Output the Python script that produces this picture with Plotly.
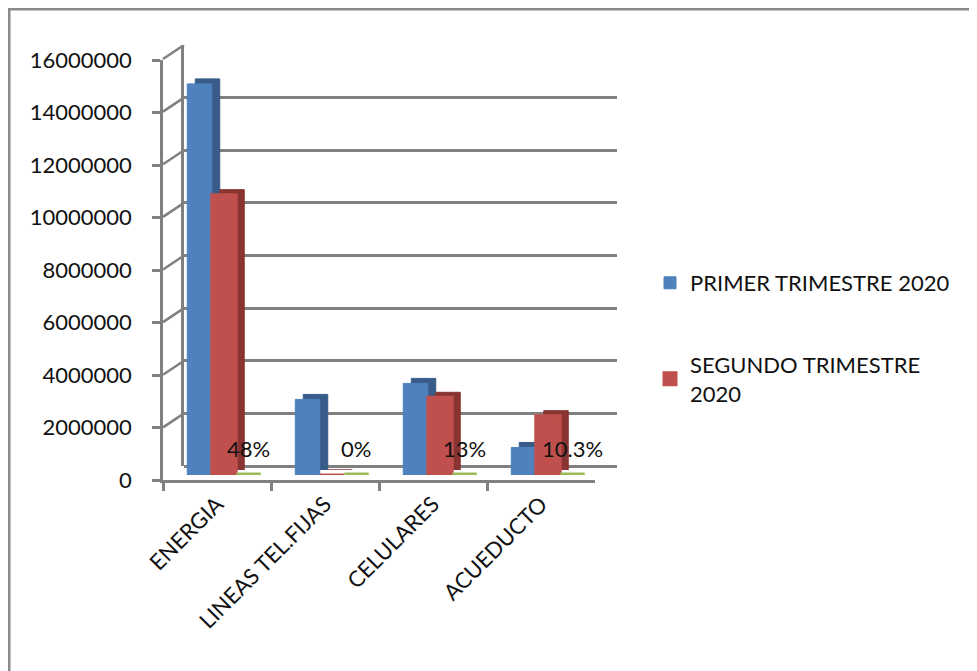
import plotly.graph_objects as go

categories = ["ENERGIA", "LINEAS TEL.FIJAS", "CELULARES", "ACUEDUCTO"]
primer_2020 = [14900000, 2880000, 3490000, 1050000]
segundo_2020 = [10680000, 0, 2960000, 2260000]
variacion = [0.48, 0.0, 0.13, 0.103]
variacion_labels = ["48%", "0%", "13%", "10.3%"]
y_ticks = [0, 2000000, 4000000, 6000000, 8000000, 10000000, 12000000, 14000000, 16000000]
series_names = ["PRIMER TRIMESTRE 2020", "SEGUNDO TRIMESTRE<br>2020"]

OFF = 8  # page body margin
W, H = 977 - OFF, 671 - OFF
FONT = "Lato"
BLUE, RED, GREEN = "#4F81BD", "#C0504D", "#9BBB59"
BLUE_D, RED_D, GREEN_D = "#375C8A", "#8A3432", "#76923C"
GRID = "#808080"
TXT = "#111111"
YMAX = 16000000


def dx(a, b):
    return [(a - OFF) / W, (b - OFF) / W]


def dy(bottom, top):
    return [1 - (bottom - OFF) / H, 1 - (top - OFF) / H]


fig = go.Figure()

# back wall (gridlines) subplot
fig.add_trace(go.Scatter(x=categories, y=[0] * 4, xaxis="x", yaxis="y", mode="markers",
                         marker=dict(opacity=0), showlegend=False, hoverinfo="skip"))
# shadow (depth) bars
for vals, col, lw in [(primer_2020, BLUE_D, 1), (segundo_2020, RED_D, 1), (variacion, GREEN_D, 0)]:
    fig.add_trace(go.Bar(x=categories, y=vals, xaxis="x2", yaxis="y2",
                         marker=dict(color=col, line=dict(color=col, width=lw)),
                         showlegend=False, hoverinfo="skip"))
# front bars
fig.add_trace(go.Bar(x=categories, y=primer_2020, name=series_names[0], xaxis="x3", yaxis="y3",
                     marker=dict(color=BLUE, line=dict(color=BLUE, width=1)), legendgroup="a"))
fig.add_trace(go.Bar(x=categories, y=segundo_2020, name=series_names[1], xaxis="x3", yaxis="y3",
                     marker=dict(color=RED, line=dict(color=RED, width=3)), legendgroup="b"))
fig.add_trace(go.Bar(x=categories, y=variacion, name="VARIACION", xaxis="x3", yaxis="y3",
                     marker=dict(color=GREEN, line=dict(color=GREEN, width=5)), showlegend=False))
# front axes subplot
fig.add_trace(go.Scatter(x=categories, y=[0] * 4, xaxis="x4", yaxis="y4", mode="markers",
                         marker=dict(opacity=0), showlegend=False, hoverinfo="skip"))

cat_range = [-0.5, 3.5]
hidden = dict(showgrid=False, zeroline=False, showticklabels=False, ticks="", showline=False)

fig.update_layout(
    width=W, height=H,
    margin=dict(l=0, r=0, t=0, b=0, autoexpand=False),
    paper_bgcolor="white", plot_bgcolor="rgba(0,0,0,0)",
    barmode="group", bargap=0.32, bargroupgap=0,
    font=dict(family=FONT, size=22, color=TXT),
    xaxis=dict(domain=dx(184, 617), range=cat_range, type="category", anchor="y", **hidden),
    yaxis=dict(domain=dy(466, 45), range=[0, YMAX], anchor="x", showgrid=True, gridcolor=GRID,
               gridwidth=2.5, zeroline=True, zerolinecolor=GRID, zerolinewidth=2.5,
               showticklabels=False, ticks="", tickvals=y_ticks,
               showline=True, linecolor=GRID, linewidth=2.5),
    xaxis2=dict(domain=dx(178, 610), range=cat_range, type="category", anchor="y2", **hidden),
    yaxis2=dict(domain=dy(470, 50), range=[0, YMAX], anchor="x2", **hidden),
    xaxis3=dict(domain=dx(170, 602), range=cat_range, type="category", anchor="y3", **hidden),
    yaxis3=dict(domain=dy(475, 55), range=[0, YMAX], anchor="x3", **hidden),
    xaxis4=dict(domain=dx(163, 595), range=cat_range, type="category", anchor="y4",
                showgrid=False, zeroline=False, showline=True, linecolor=GRID, linewidth=2.5,
                ticks="outside", ticklen=8, tickwidth=2.5, tickcolor=GRID, tickson="boundaries",
                tickangle=-45, tickfont=dict(family=FONT, size=22, color=TXT)),
    yaxis4=dict(domain=dy(480, 60), range=[0, YMAX], anchor="x4", showgrid=False, zeroline=False,
                showline=True, linecolor=GRID, linewidth=2.5, ticks="outside", ticklen=8,
                tickwidth=2.5, tickcolor=GRID, tickvals=y_ticks, tickformat="d",
                ticklabelstandoff=16, tickfont=dict(family=FONT, size=22, color=TXT)),
    legend=dict(x=(650 - OFF) / W, y=1 - (262 - OFF) / H, xanchor="left", yanchor="top",
                font=dict(family=FONT, size=22, color=TXT), tracegroupgap=50,
                bgcolor="rgba(0,0,0,0)"),
    showlegend=True,
)

# percentage labels above the flat third series
for cat, lab in zip(categories, variacion_labels):
    fig.add_annotation(x=cat, y=0, xref="x3", yref="y3", text=lab, showarrow=False,
                       xshift=24, yshift=27, font=dict(family=FONT, size=22, color=TXT))

shapes = []
# left wall diagonals from front ticks to back wall
for v in y_ticks:
    shapes.append(dict(type="line", xref="x domain", yref="y", xsizemode="pixel", ysizemode="pixel",
                       xanchor=0, yanchor=v, x0=-21, y0=-14, x1=0, y1=0,
                       line=dict(color=GRID, width=2.5)))
# right floor diagonal
shapes.append(dict(type="line", xref="x domain", yref="y", xsizemode="pixel", ysizemode="pixel",
                   xanchor=1, yanchor=0, x0=-22, y0=-14, x1=0, y1=0,
                   line=dict(color=GRID, width=2.5)))
# outer frame
shapes.append(dict(type="line", xref="paper", yref="paper", x0=0, x1=1, y0=1, y1=1,
                   line=dict(color="#8A8A8A", width=5)))
shapes.append(dict(type="line", xref="paper", yref="paper", x0=0, x1=0, y0=0, y1=1,
                   line=dict(color="#8A8A8A", width=5)))
fig.update_layout(shapes=shapes)

fig.write_html("out.html")
